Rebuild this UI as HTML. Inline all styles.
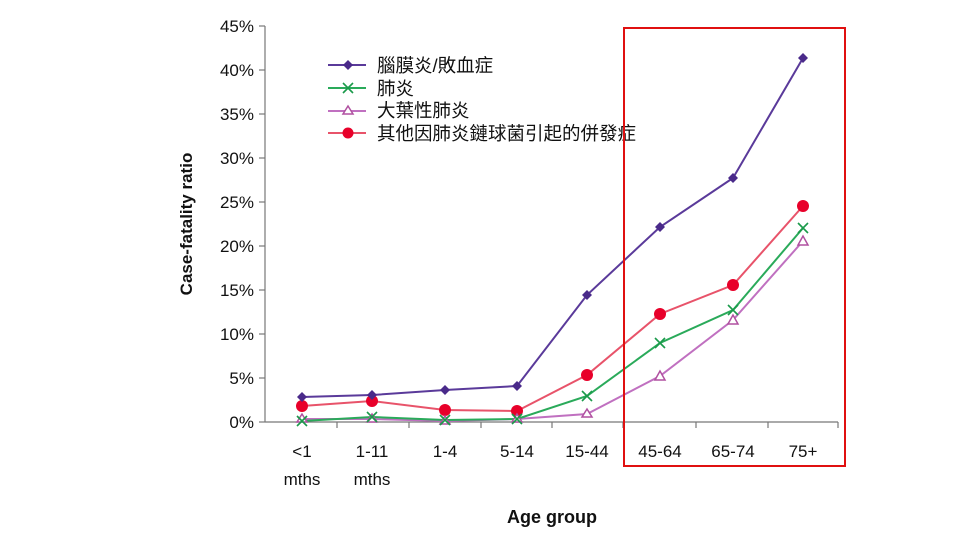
<!DOCTYPE html>
<html><head><meta charset="utf-8"><style>
body{margin:0;background:#fff;width:960px;height:542px;overflow:hidden}
text{font-family:"Liberation Sans","Noto Sans CJK TC",sans-serif}
</style></head><body>
<svg width="960" height="542" xmlns="http://www.w3.org/2000/svg">
<g stroke="#777" stroke-width="1.2" fill="none">
<line x1="265" y1="26" x2="265" y2="422"/>
<line x1="265" y1="422" x2="838" y2="422"/>
<line x1="259" y1="26" x2="265" y2="26"/><line x1="259" y1="70" x2="265" y2="70"/><line x1="259" y1="114" x2="265" y2="114"/><line x1="259" y1="158" x2="265" y2="158"/><line x1="259" y1="202" x2="265" y2="202"/><line x1="259" y1="246" x2="265" y2="246"/><line x1="259" y1="290" x2="265" y2="290"/><line x1="259" y1="334" x2="265" y2="334"/><line x1="259" y1="378" x2="265" y2="378"/><line x1="259" y1="422" x2="265" y2="422"/>
<line x1="337" y1="422" x2="337" y2="428"/><line x1="409" y1="422" x2="409" y2="428"/><line x1="481" y1="422" x2="481" y2="428"/><line x1="552" y1="422" x2="552" y2="428"/><line x1="623" y1="422" x2="623" y2="428"/><line x1="696" y1="422" x2="696" y2="428"/><line x1="768" y1="422" x2="768" y2="428"/><line x1="838" y1="422" x2="838" y2="428"/>
</g>
<g font-size="17" fill="#111" text-anchor="end">
<text x="254" y="32">45%</text><text x="254" y="76">40%</text><text x="254" y="120">35%</text><text x="254" y="164">30%</text><text x="254" y="208">25%</text><text x="254" y="252">20%</text><text x="254" y="296">15%</text><text x="254" y="340">10%</text><text x="254" y="384">5%</text><text x="254" y="428">0%</text>
</g>
<g font-size="17" fill="#111" text-anchor="middle">
<text x="302" y="457">&lt;1</text><text x="302" y="485">mths</text>
<text x="372" y="457">1-11</text><text x="372" y="485">mths</text>
<text x="445" y="457">1-4</text><text x="517" y="457">5-14</text><text x="587" y="457">15-44</text>
<text x="660" y="457">45-64</text><text x="733" y="457">65-74</text><text x="803" y="457">75+</text>
<text x="552" y="523" font-weight="bold" font-size="18">Age group</text>
</g>
<text transform="translate(192,224) rotate(-90)" font-size="17" font-weight="bold" text-anchor="middle" fill="#111">Case-fatality ratio</text>
<polyline fill="none" stroke="#e8536a" stroke-width="2" points="302,406 372,401 445,410 517,411 587,375 660,314 733,285 803,206"/>
<polyline fill="none" stroke="#c070c0" stroke-width="2" points="302,419 372,419 445,421 517,419 587,414 660,376 733,320 803,241"/>
<polyline fill="none" stroke="#2aaa5a" stroke-width="2" points="302,421 372,417 445,420 517,419 587,396 660,343 733,310 803,228"/>
<polyline fill="none" stroke="#5a3a9a" stroke-width="2" points="302,397 372,395 445,390 517,386 587,295 660,227 733,178 803,58"/>
<g fill="#e8002a">
<circle cx="302" cy="406" r="6"/><circle cx="372" cy="401" r="6"/><circle cx="445" cy="410" r="6"/><circle cx="517" cy="411" r="6"/><circle cx="587" cy="375" r="6"/><circle cx="660" cy="314" r="6"/><circle cx="733" cy="285" r="6"/><circle cx="803" cy="206" r="6"/>
</g>
<g fill="#fff" stroke="#b050a0" stroke-width="1.5">
<polygon points="302,414 297,422 307,422"/><polygon points="372,414 367,422 377,422"/><polygon points="445,416 440,424 450,424"/><polygon points="517,414 512,422 522,422"/><polygon points="587,409 582,417 592,417"/><polygon points="660,371 655,380 665,380"/><polygon points="733,315 728,324 738,324"/><polygon points="803,236 798,245 808,245"/>
</g>
<g stroke="#1a9a4a" stroke-width="1.6">
<path d="M297,416l10,10M307,416l-10,10"/><path d="M367,412l10,10M377,412l-10,10"/><path d="M440,415l10,10M450,415l-10,10"/><path d="M512,414l10,10M522,414l-10,10"/><path d="M582,391l10,10M592,391l-10,10"/><path d="M655,338l10,10M665,338l-10,10"/><path d="M728,305l10,10M738,305l-10,10"/><path d="M798,223l10,10M808,223l-10,10"/>
</g>
<g fill="#4a2a8a">
<polygon points="302,392 307,397 302,402 297,397"/><polygon points="372,390 377,395 372,400 367,395"/><polygon points="445,385 450,390 445,395 440,390"/><polygon points="517,381 522,386 517,391 512,386"/><polygon points="587,290 592,295 587,300 582,295"/><polygon points="660,222 665,227 660,232 655,227"/><polygon points="733,173 738,178 733,183 728,178"/><polygon points="803,53 808,58 803,63 798,58"/>
</g>
<line x1="328" y1="65" x2="366" y2="65" stroke="#5a3a9a" stroke-width="2"/><polygon points="348,60 353,65 348,70 343,65" fill="#4a2a8a"/>
<line x1="328" y1="88" x2="366" y2="88" stroke="#2aaa5a" stroke-width="2"/><path d="M343,83l10,10M353,83l-10,10" stroke="#1a9a4a" stroke-width="1.6"/>
<line x1="328" y1="111" x2="366" y2="111" stroke="#c070c0" stroke-width="2"/><polygon points="348,106 343,114 353,114" fill="#fff" stroke="#b050a0" stroke-width="1.5"/>
<line x1="328" y1="133" x2="366" y2="133" stroke="#e8536a" stroke-width="2"/><circle cx="348" cy="133" r="5.5" fill="#e8002a"/>
<g font-size="18.5" fill="#111">
<text x="377" y="72">腦膜炎/敗血症</text><text x="377" y="95">肺炎</text><text x="377" y="117">大葉性肺炎</text><text x="377" y="140">其他因肺炎鏈球菌引起的併發症</text>
</g>
<rect x="624" y="28" width="221" height="438" fill="none" stroke="#e01010" stroke-width="2"/>
</svg>
</body></html>
